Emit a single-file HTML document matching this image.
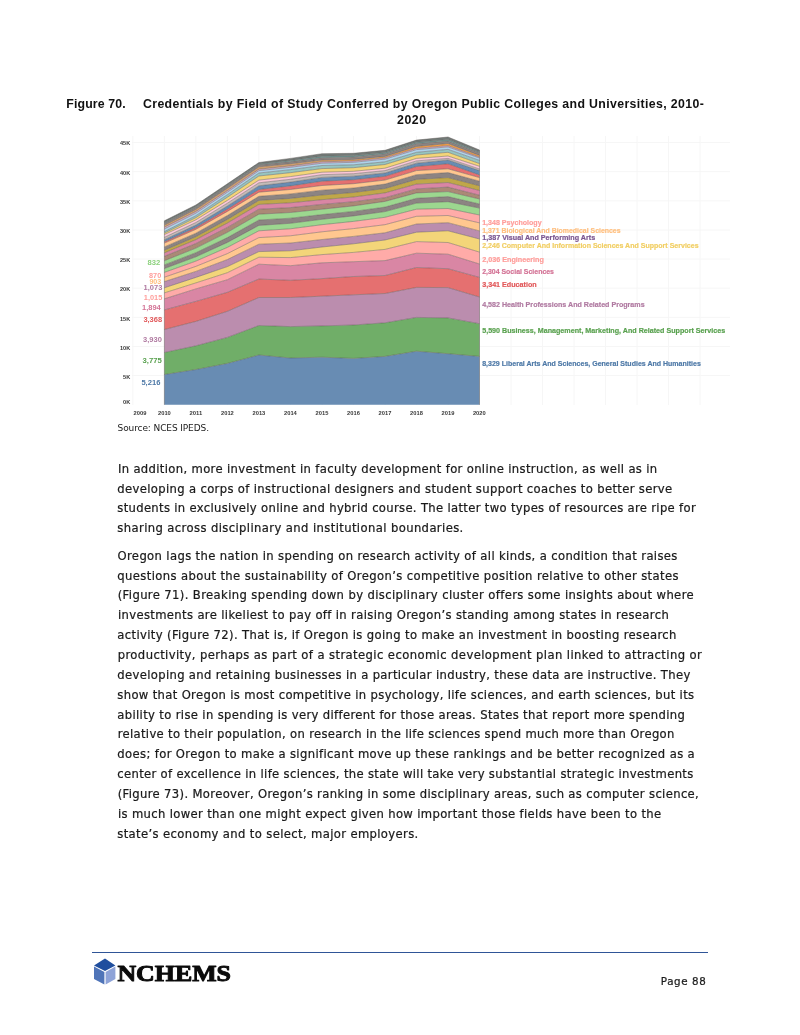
<!DOCTYPE html>
<html lang="en"><head><meta charset="utf-8"><title>Page 88</title>
<style>
html,body{margin:0;padding:0;background:#fff;}
body{width:800px;height:1035px;position:relative;overflow:hidden;font-family:'DejaVu Sans', 'Liberation Sans', sans-serif;}
.ln{position:absolute;white-space:pre;line-height:1;margin:0;}
.bd{-webkit-text-stroke:0.22px #1a1a1a;}
#chart{position:absolute;left:0;top:0;}
#rule{position:absolute;left:92px;top:951.7px;width:615.8px;height:1.3px;background:#2f5597;}
#logo{position:absolute;left:0;top:0;}
</style></head><body>
<svg id="chart" width="800" height="440" viewBox="0 0 800 440">
<defs><filter id="soft" x="-2%" y="-2%" width="104%" height="104%"><feGaussianBlur stdDeviation="0.45"/></filter></defs>
<g filter="url(#soft)">
<g stroke="#f6f6f6" stroke-width="1" fill="none">
<line x1="132" y1="142.6" x2="730" y2="142.6"/>
<line x1="132" y1="171.7" x2="730" y2="171.7"/>
<line x1="132" y1="200.9" x2="730" y2="200.9"/>
<line x1="132" y1="230" x2="730" y2="230"/>
<line x1="132" y1="259.1" x2="730" y2="259.1"/>
<line x1="132" y1="288.2" x2="730" y2="288.2"/>
<line x1="132" y1="317.4" x2="730" y2="317.4"/>
<line x1="132" y1="346.5" x2="730" y2="346.5"/>
<line x1="132" y1="375.6" x2="730" y2="375.6"/>
<line x1="132.9" y1="136" x2="132.9" y2="405"/>
<line x1="164.4" y1="136" x2="164.4" y2="405"/>
<line x1="195.9" y1="136" x2="195.9" y2="405"/>
<line x1="227.4" y1="136" x2="227.4" y2="405"/>
<line x1="258.9" y1="136" x2="258.9" y2="405"/>
<line x1="290.4" y1="136" x2="290.4" y2="405"/>
<line x1="322" y1="136" x2="322" y2="405"/>
<line x1="353.5" y1="136" x2="353.5" y2="405"/>
<line x1="385" y1="136" x2="385" y2="405"/>
<line x1="416.5" y1="136" x2="416.5" y2="405"/>
<line x1="448" y1="136" x2="448" y2="405"/>
<line x1="479.5" y1="136" x2="479.5" y2="405"/>
<line x1="511" y1="136" x2="511" y2="405"/>
<line x1="542.5" y1="136" x2="542.5" y2="405"/>
<line x1="574" y1="136" x2="574" y2="405"/>
<line x1="605.5" y1="136" x2="605.5" y2="405"/>
<line x1="637.1" y1="136" x2="637.1" y2="405"/>
<line x1="668.6" y1="136" x2="668.6" y2="405"/>
<line x1="700.1" y1="136" x2="700.1" y2="405"/>
</g>
<defs><linearGradient id="og" gradientUnits="userSpaceOnUse" x1="164.4" y1="0" x2="479.5" y2="0"><stop offset="0" stop-color="#d19f6f"/><stop offset="0.45" stop-color="#d19f6f"/><stop offset="0.75" stop-color="#f49e49"/><stop offset="1" stop-color="#f49e49"/></linearGradient></defs>
<g>
<path d="M164.4 374.5L195.9 369.5L227.4 363.4L258.9 355L290.4 358L322 357.2L353.5 358.4L385 356.4L416.5 351.2L448 353.7L479.5 356.4L479.5 404.8L448 404.8L416.5 404.8L385 404.8L353.5 404.8L322 404.8L290.4 404.8L258.9 404.8L227.4 404.8L195.9 404.8L164.4 404.8Z" fill="#678cb3"/>
<path d="M164.4 352.5L195.9 345.8L227.4 337.4L258.9 325.5L290.4 326.6L322 325.9L353.5 325L385 322.8L416.5 317.4L448 317.9L479.5 323.7L479.5 356.4L448 353.7L416.5 351.2L385 356.4L353.5 358.4L322 357.2L290.4 358L258.9 355L227.4 363.4L195.9 369.5L164.4 374.5Z" fill="#70ae68"/>
<path d="M164.4 329.5L195.9 321.4L227.4 311.3L258.9 297.5L290.4 297.5L322 296.2L353.5 294.8L385 293.5L416.5 287.4L448 287.6L479.5 297L479.5 323.7L448 317.9L416.5 317.4L385 322.8L353.5 325L322 325.9L290.4 326.6L258.9 325.5L227.4 337.4L195.9 345.8L164.4 352.5Z" fill="#bb8dae"/>
<path d="M164.4 309.9L195.9 301.4L227.4 292.3L258.9 279L290.4 280.3L322 278.6L353.5 276.5L385 275.5L416.5 267.5L448 268.7L479.5 277.4L479.5 297L448 287.6L416.5 287.4L385 293.5L353.5 294.8L322 296.2L290.4 297.5L258.9 297.5L227.4 311.3L195.9 321.4L164.4 329.5Z" fill="#e56f70"/>
<path d="M164.4 298.8L195.9 288.9L227.4 279.7L258.9 264.2L290.4 265.7L322 262.8L353.5 261.7L385 260.6L416.5 253.2L448 254.2L479.5 264L479.5 277.4L448 268.7L416.5 267.5L385 275.5L353.5 276.5L322 278.6L290.4 280.3L258.9 279L227.4 292.3L195.9 301.4L164.4 309.9Z" fill="#d986a4"/>
<path d="M164.4 292.9L195.9 282.9L227.4 272.7L258.9 257.2L290.4 257.6L322 254.6L353.5 252.4L385 249.4L416.5 241.6L448 242.5L479.5 252.1L479.5 264L448 254.2L416.5 253.2L385 260.6L353.5 261.7L322 262.8L290.4 265.7L258.9 264.2L227.4 279.7L195.9 288.9L164.4 298.8Z" fill="#ffaba8"/>
<path d="M164.4 287.8L195.9 277.4L227.4 266.6L258.9 251.6L290.4 250.8L322 247L353.5 243.8L385 240L416.5 232.2L448 230.8L479.5 239L479.5 252.1L448 242.5L416.5 241.6L385 249.4L353.5 252.4L322 254.6L290.4 257.6L258.9 257.2L227.4 272.7L195.9 282.9L164.4 292.9Z" fill="#f3d579"/>
<path d="M164.4 281.6L195.9 271.4L227.4 259.5L258.9 244.2L290.4 243L322 239.5L353.5 236.4L385 232.8L416.5 224L448 222.7L479.5 230.9L479.5 239L448 230.8L416.5 232.2L385 240L353.5 243.8L322 247L290.4 250.8L258.9 251.6L227.4 266.6L195.9 277.4L164.4 287.8Z" fill="#bb8dae"/>
<path d="M164.4 277.2L195.9 266.4L227.4 253.6L258.9 237.6L290.4 235.8L322 231.8L353.5 228.6L385 224.7L416.5 216.3L448 215.5L479.5 222.9L479.5 230.9L448 222.7L416.5 224L385 232.8L353.5 236.4L322 239.5L290.4 243L258.9 244.2L227.4 259.5L195.9 271.4L164.4 281.6Z" fill="#ffc78f"/>
<path d="M164.4 272.4L195.9 261.1L227.4 247.4L258.9 230.8L290.4 228.8L322 224.7L353.5 221.4L385 217.3L416.5 209.2L448 208.5L479.5 215L479.5 222.9L448 215.5L416.5 216.3L385 224.7L353.5 228.6L322 231.8L290.4 235.8L258.9 237.6L227.4 253.6L195.9 266.4L164.4 277.2Z" fill="#ffaba8"/>
<path d="M164.4 268.5L195.9 256.8L227.4 242.4L258.9 225.4L290.4 223.3L322 219.3L353.5 215.9L385 211.6L416.5 203.1L448 201.7L479.5 208.1L479.5 215L448 208.5L416.5 209.2L385 217.3L353.5 221.4L322 224.7L290.4 228.8L258.9 230.8L227.4 247.4L195.9 261.1L164.4 272.4Z" fill="#9cd78f"/>
<path d="M164.4 264.9L195.9 252.7L227.4 237.6L258.9 220L290.4 218.2L322 214.6L353.5 211.4L385 207.1L416.5 198.3L448 196.6L479.5 204L479.5 208.1L448 201.7L416.5 203.1L385 211.6L353.5 215.9L322 219.3L290.4 223.3L258.9 225.4L227.4 242.4L195.9 256.8L164.4 268.5Z" fill="#8c8482"/>
<path d="M164.4 260.7L195.9 248.1L227.4 232.3L258.9 214.2L290.4 212.5L322 209.2L353.5 205.9L385 201.4L416.5 192.9L448 191.6L479.5 199L479.5 204L448 196.6L416.5 198.3L385 207.1L353.5 211.4L322 214.6L290.4 218.2L258.9 220L227.4 237.6L195.9 252.7L164.4 264.9Z" fill="#9cd78f"/>
<path d="M164.4 256.3L195.9 243.5L227.4 227.4L258.9 209.2L290.4 207.6L322 204.4L353.5 201.7L385 197.7L416.5 188.9L448 187.1L479.5 195.2L479.5 199L448 191.6L416.5 192.9L385 201.4L353.5 205.9L322 209.2L290.4 212.5L258.9 214.2L227.4 232.3L195.9 248.1L164.4 260.7Z" fill="#ab8976"/>
<path d="M164.4 252.9L195.9 239.7L227.4 223L258.9 204.4L290.4 202.8L322 199.7L353.5 197L385 192.9L416.5 184.1L448 182.5L479.5 190.5L479.5 195.2L448 187.1L416.5 188.9L385 197.7L353.5 201.7L322 204.4L290.4 207.6L258.9 209.2L227.4 227.4L195.9 243.5L164.4 256.3Z" fill="#d986a4"/>
<path d="M164.4 250.2L195.9 236.7L227.4 219.4L258.9 200.4L290.4 198.4L322 195L353.5 192.5L385 188.5L416.5 179.4L448 177.6L479.5 185.8L479.5 190.5L448 182.5L416.5 184.1L385 192.9L353.5 197L322 199.7L290.4 202.8L258.9 204.4L227.4 223L195.9 239.7L164.4 252.9Z" fill="#c0a74a"/>
<path d="M164.4 246.9L195.9 233.2L227.4 215.5L258.9 196.3L290.4 193.9L322 190.2L353.5 188L385 184.1L416.5 174.7L448 172.6L479.5 181.2L479.5 185.8L448 177.6L416.5 179.4L385 188.5L353.5 192.5L322 195L290.4 198.4L258.9 200.4L227.4 219.4L195.9 236.7L164.4 250.2Z" fill="#8c8482"/>
<path d="M164.4 243.1L195.9 229.3L227.4 211.4L258.9 192.2L290.4 189.5L322 185.5L353.5 183.7L385 180.1L416.5 170.6L448 168.8L479.5 177.6L479.5 181.2L448 172.6L416.5 174.7L385 184.1L353.5 188L322 190.2L290.4 193.9L258.9 196.3L227.4 215.5L195.9 233.2L164.4 246.9Z" fill="#ffc78f"/>
<path d="M164.4 241.7L195.9 227.6L227.4 209.1L258.9 189.5L290.4 185.9L322 181.2L353.5 179.7L385 176.3L416.5 166.5L448 163.8L479.5 174.9L479.5 177.6L448 168.8L416.5 170.6L385 180.1L353.5 183.7L322 185.5L290.4 189.5L258.9 192.2L227.4 211.4L195.9 229.3L164.4 243.1Z" fill="#e56f70"/>
<path d="M164.4 239.7L195.9 225.1L227.4 206L258.9 185.8L290.4 182.1L322 177.4L353.5 176.2L385 173L416.5 163.2L448 160L479.5 170.6L479.5 174.9L448 163.8L416.5 166.5L385 176.3L353.5 179.7L322 181.2L290.4 185.9L258.9 189.5L227.4 209.1L195.9 227.6L164.4 241.7Z" fill="#678cb3"/>
<path d="M164.4 237.3L195.9 222.5L227.4 203.2L258.9 182.8L290.4 179.3L322 174.7L353.5 173.7L385 170.6L416.5 160.9L448 158.4L479.5 169L479.5 170.6L448 160L416.5 163.2L385 173L353.5 176.2L322 177.4L290.4 182.1L258.9 185.8L227.4 206L195.9 225.1L164.4 239.7Z" fill="#c4bbb8"/>
<path d="M164.4 234.6L195.9 219.8L227.4 200.4L258.9 180.1L290.4 176.6L322 172.2L353.5 171.3L385 168.2L416.5 158.4L448 156L479.5 166.3L479.5 169L448 158.4L416.5 160.9L385 170.6L353.5 173.7L322 174.7L290.4 179.3L258.9 182.8L227.4 203.2L195.9 222.5L164.4 237.3Z" fill="#fbc8d8"/>
<path d="M164.4 233.1L195.9 217.6L227.4 197.2L258.9 176L290.4 172.7L322 168.6L353.5 167.7L385 164.5L416.5 155L448 152.3L479.5 163.6L479.5 166.3L448 156L416.5 158.4L385 168.2L353.5 171.3L322 172.2L290.4 176.6L258.9 180.1L227.4 200.4L195.9 219.8L164.4 234.6Z" fill="#f3d579"/>
<path d="M164.4 231.6L195.9 215.7L227.4 194.7L258.9 173L290.4 169.7L322 165.5L353.5 164.8L385 161.8L416.5 152.3L448 149.4L479.5 160.4L479.5 163.6L448 152.3L416.5 155L385 164.5L353.5 167.7L322 168.6L290.4 172.7L258.9 176L227.4 197.2L195.9 217.6L164.4 233.1Z" fill="#97c5c0"/>
<path d="M164.4 228.9L195.9 213.1L227.4 192.1L258.9 170.6L290.4 167.3L322 163.2L353.5 162.3L385 159.1L416.5 149.6L448 146.9L479.5 158L479.5 160.4L448 149.4L416.5 152.3L385 161.8L353.5 164.8L322 165.5L290.4 169.7L258.9 173L227.4 194.7L195.9 215.7L164.4 231.6Z" fill="#add2eb"/>
<path d="M164.4 227.2L195.9 211.5L227.4 190.6L258.9 169.2L290.4 165.9L322 161.8L353.5 161L385 157.8L416.5 148.3L448 145.6L479.5 157L479.5 158L448 146.9L416.5 149.6L385 159.1L353.5 162.3L322 163.2L290.4 167.3L258.9 170.6L227.4 192.1L195.9 213.1L164.4 228.9Z" fill="#dab2d0"/>
<path d="M164.4 225.1L195.9 209.3L227.4 188.2L258.9 166.8L290.4 163.7L322 160L353.5 159.4L385 156.4L416.5 146.5L448 143.5L479.5 155.4L479.5 157L448 145.6L416.5 148.3L385 157.8L353.5 161L322 161.8L290.4 165.9L258.9 169.2L227.4 190.6L195.9 211.5L164.4 227.2Z" fill="url(#og)"/>
<path d="M164.4 223L195.9 207.3L227.4 186.1L258.9 164.8L290.4 161.6L322 157.7L353.5 156.9L385 153.7L416.5 143.5L448 141.1L479.5 152.7L479.5 155.4L448 143.5L416.5 146.5L385 156.4L353.5 159.4L322 160L290.4 163.7L258.9 166.8L227.4 188.2L195.9 209.3L164.4 225.1Z" fill="#8c8482"/>
<path d="M164.4 222.2L195.9 206.4L227.4 185.3L258.9 164L290.4 160.4L322 156.3L353.5 155.6L385 152.5L416.5 142.3L448 139.6L479.5 151.7L479.5 152.7L448 141.1L416.5 143.5L385 153.7L353.5 156.9L322 157.7L290.4 161.6L258.9 164.8L227.4 186.1L195.9 207.3L164.4 223Z" fill="#739e9a"/>
<path d="M164.4 220.8L195.9 205L227.4 183.8L258.9 162.5L290.4 158.4L322 153.7L353.5 153.3L385 150.3L416.5 140.1L448 137L479.5 150L479.5 151.7L448 139.6L416.5 142.3L385 152.5L353.5 155.6L322 156.3L290.4 160.4L258.9 164L227.4 185.3L195.9 206.4L164.4 222.2Z" fill="#727a77"/>
</g>
<g fill="none" stroke="#5a5350" stroke-opacity="0.75" stroke-width="0.6">
<path d="M164.4 374.5L195.9 369.5L227.4 363.4L258.9 355L290.4 358L322 357.2L353.5 358.4L385 356.4L416.5 351.2L448 353.7L479.5 356.4"/>
<path d="M164.4 352.5L195.9 345.8L227.4 337.4L258.9 325.5L290.4 326.6L322 325.9L353.5 325L385 322.8L416.5 317.4L448 317.9L479.5 323.7"/>
<path d="M164.4 329.5L195.9 321.4L227.4 311.3L258.9 297.5L290.4 297.5L322 296.2L353.5 294.8L385 293.5L416.5 287.4L448 287.6L479.5 297"/>
<path d="M164.4 309.9L195.9 301.4L227.4 292.3L258.9 279L290.4 280.3L322 278.6L353.5 276.5L385 275.5L416.5 267.5L448 268.7L479.5 277.4"/>
<path d="M164.4 298.8L195.9 288.9L227.4 279.7L258.9 264.2L290.4 265.7L322 262.8L353.5 261.7L385 260.6L416.5 253.2L448 254.2L479.5 264"/>
<path d="M164.4 292.9L195.9 282.9L227.4 272.7L258.9 257.2L290.4 257.6L322 254.6L353.5 252.4L385 249.4L416.5 241.6L448 242.5L479.5 252.1"/>
<path d="M164.4 287.8L195.9 277.4L227.4 266.6L258.9 251.6L290.4 250.8L322 247L353.5 243.8L385 240L416.5 232.2L448 230.8L479.5 239"/>
<path d="M164.4 281.6L195.9 271.4L227.4 259.5L258.9 244.2L290.4 243L322 239.5L353.5 236.4L385 232.8L416.5 224L448 222.7L479.5 230.9"/>
<path d="M164.4 277.2L195.9 266.4L227.4 253.6L258.9 237.6L290.4 235.8L322 231.8L353.5 228.6L385 224.7L416.5 216.3L448 215.5L479.5 222.9"/>
<path d="M164.4 272.4L195.9 261.1L227.4 247.4L258.9 230.8L290.4 228.8L322 224.7L353.5 221.4L385 217.3L416.5 209.2L448 208.5L479.5 215"/>
<path d="M164.4 268.5L195.9 256.8L227.4 242.4L258.9 225.4L290.4 223.3L322 219.3L353.5 215.9L385 211.6L416.5 203.1L448 201.7L479.5 208.1"/>
<path d="M164.4 264.9L195.9 252.7L227.4 237.6L258.9 220L290.4 218.2L322 214.6L353.5 211.4L385 207.1L416.5 198.3L448 196.6L479.5 204"/>
<path d="M164.4 260.7L195.9 248.1L227.4 232.3L258.9 214.2L290.4 212.5L322 209.2L353.5 205.9L385 201.4L416.5 192.9L448 191.6L479.5 199"/>
<path d="M164.4 256.3L195.9 243.5L227.4 227.4L258.9 209.2L290.4 207.6L322 204.4L353.5 201.7L385 197.7L416.5 188.9L448 187.1L479.5 195.2"/>
<path d="M164.4 252.9L195.9 239.7L227.4 223L258.9 204.4L290.4 202.8L322 199.7L353.5 197L385 192.9L416.5 184.1L448 182.5L479.5 190.5"/>
<path d="M164.4 250.2L195.9 236.7L227.4 219.4L258.9 200.4L290.4 198.4L322 195L353.5 192.5L385 188.5L416.5 179.4L448 177.6L479.5 185.8"/>
<path d="M164.4 246.9L195.9 233.2L227.4 215.5L258.9 196.3L290.4 193.9L322 190.2L353.5 188L385 184.1L416.5 174.7L448 172.6L479.5 181.2"/>
<path d="M164.4 243.1L195.9 229.3L227.4 211.4L258.9 192.2L290.4 189.5L322 185.5L353.5 183.7L385 180.1L416.5 170.6L448 168.8L479.5 177.6"/>
<path d="M164.4 241.7L195.9 227.6L227.4 209.1L258.9 189.5L290.4 185.9L322 181.2L353.5 179.7L385 176.3L416.5 166.5L448 163.8L479.5 174.9"/>
<path d="M164.4 239.7L195.9 225.1L227.4 206L258.9 185.8L290.4 182.1L322 177.4L353.5 176.2L385 173L416.5 163.2L448 160L479.5 170.6"/>
<path d="M164.4 237.3L195.9 222.5L227.4 203.2L258.9 182.8L290.4 179.3L322 174.7L353.5 173.7L385 170.6L416.5 160.9L448 158.4L479.5 169"/>
<path d="M164.4 234.6L195.9 219.8L227.4 200.4L258.9 180.1L290.4 176.6L322 172.2L353.5 171.3L385 168.2L416.5 158.4L448 156L479.5 166.3"/>
<path d="M164.4 233.1L195.9 217.6L227.4 197.2L258.9 176L290.4 172.7L322 168.6L353.5 167.7L385 164.5L416.5 155L448 152.3L479.5 163.6"/>
<path d="M164.4 231.6L195.9 215.7L227.4 194.7L258.9 173L290.4 169.7L322 165.5L353.5 164.8L385 161.8L416.5 152.3L448 149.4L479.5 160.4"/>
<path d="M164.4 228.9L195.9 213.1L227.4 192.1L258.9 170.6L290.4 167.3L322 163.2L353.5 162.3L385 159.1L416.5 149.6L448 146.9L479.5 158"/>
<path d="M164.4 227.2L195.9 211.5L227.4 190.6L258.9 169.2L290.4 165.9L322 161.8L353.5 161L385 157.8L416.5 148.3L448 145.6L479.5 157"/>
<path d="M164.4 225.1L195.9 209.3L227.4 188.2L258.9 166.8L290.4 163.7L322 160L353.5 159.4L385 156.4L416.5 146.5L448 143.5L479.5 155.4"/>
<path d="M164.4 223L195.9 207.3L227.4 186.1L258.9 164.8L290.4 161.6L322 157.7L353.5 156.9L385 153.7L416.5 143.5L448 141.1L479.5 152.7"/>
<path d="M164.4 222.2L195.9 206.4L227.4 185.3L258.9 164L290.4 160.4L322 156.3L353.5 155.6L385 152.5L416.5 142.3L448 139.6L479.5 151.7"/>
<path d="M164.4 220.8L195.9 205L227.4 183.8L258.9 162.5L290.4 158.4L322 153.7L353.5 153.3L385 150.3L416.5 140.1L448 137L479.5 150"/>
<path d="M164.4 220.8L164.4 404.8"/>
<path d="M479.5 150L479.5 404.8"/>
</g>
<g font-family="&quot;Liberation Sans&quot;, sans-serif">
<text x="147.4" y="265.2" font-size="6.4" font-weight="700" fill="#8cd17d" textLength="12.8" lengthAdjust="spacingAndGlyphs">832</text>
<text x="149.0" y="278.3" font-size="6.4" font-weight="700" fill="#ff9d9a" textLength="12.2" lengthAdjust="spacingAndGlyphs">870</text>
<text x="149.4" y="283.9" font-size="6.4" font-weight="700" fill="#ffbe7d" textLength="11.8" lengthAdjust="spacingAndGlyphs">903</text>
<text x="143.6" y="290.1" font-size="6.4" font-weight="700" fill="#b07aa1" textLength="18.7" lengthAdjust="spacingAndGlyphs">1,073</text>
<text x="143.8" y="300.4" font-size="6.4" font-weight="700" fill="#ff9d9a" textLength="18.5" lengthAdjust="spacingAndGlyphs">1,015</text>
<text x="142.0" y="309.8" font-size="6.4" font-weight="700" fill="#d37295" textLength="18.7" lengthAdjust="spacingAndGlyphs">1,894</text>
<text x="143.4" y="321.9" font-size="6.4" font-weight="700" fill="#e15759" textLength="18.7" lengthAdjust="spacingAndGlyphs">3,368</text>
<text x="143.1" y="341.6" font-size="6.4" font-weight="700" fill="#b07aa1" textLength="18.8" lengthAdjust="spacingAndGlyphs">3,930</text>
<text x="142.5" y="363.2" font-size="6.4" font-weight="700" fill="#59a14f" textLength="19.3" lengthAdjust="spacingAndGlyphs">3,775</text>
<text x="141.4" y="385.1" font-size="6.4" font-weight="700" fill="#4e79a7" textLength="19.0" lengthAdjust="spacingAndGlyphs">5,216</text>
<text x="482.2" y="224.7" font-size="6.6" font-weight="700" fill="#ff9d9a" stroke="#ff9d9a" stroke-width="0.18" textLength="59.4" lengthAdjust="spacingAndGlyphs">1,348 Psychology</text>
<text x="482.2" y="232.5" font-size="6.6" font-weight="700" fill="#ffbe7d" stroke="#ffbe7d" stroke-width="0.18" textLength="138.4" lengthAdjust="spacingAndGlyphs">1,371 Biological And Biomedical Sciences</text>
<text x="482.2" y="240.4" font-size="6.6" font-weight="700" fill="#7a5590" stroke="#7a5590" stroke-width="0.18" textLength="113.0" lengthAdjust="spacingAndGlyphs">1,387 Visual And Performing Arts</text>
<text x="482.2" y="247.5" font-size="6.6" font-weight="700" fill="#f1ce63" stroke="#f1ce63" stroke-width="0.18" textLength="216.4" lengthAdjust="spacingAndGlyphs">2,246 Computer And Information Sciences And Support Services</text>
<text x="482.2" y="261.8" font-size="6.6" font-weight="700" fill="#ff9d9a" stroke="#ff9d9a" stroke-width="0.18" textLength="61.7" lengthAdjust="spacingAndGlyphs">2,036 Engineering</text>
<text x="482.2" y="273.5" font-size="6.6" font-weight="700" fill="#d37295" stroke="#d37295" stroke-width="0.18" textLength="71.8" lengthAdjust="spacingAndGlyphs">2,304 Social Sciences</text>
<text x="482.2" y="287.1" font-size="6.6" font-weight="700" fill="#e15759" stroke="#e15759" stroke-width="0.18" textLength="54.5" lengthAdjust="spacingAndGlyphs">3,341 Education</text>
<text x="482.2" y="306.6" font-size="6.6" font-weight="700" fill="#b07aa1" stroke="#b07aa1" stroke-width="0.18" textLength="162.4" lengthAdjust="spacingAndGlyphs">4,582 Health Professions And Related Programs</text>
<text x="482.2" y="333.3" font-size="6.6" font-weight="700" fill="#59a14f" stroke="#59a14f" stroke-width="0.18" textLength="243.0" lengthAdjust="spacingAndGlyphs">5,590 Business, Management, Marketing, And Related Support Services</text>
<text x="482.2" y="365.8" font-size="6.6" font-weight="700" fill="#4e79a7" stroke="#4e79a7" stroke-width="0.18" textLength="218.7" lengthAdjust="spacingAndGlyphs">8,329 Liberal Arts And Sciences, General Studies And Humanities</text>
<text x="123.0" y="403.9" font-size="5.3" font-weight="700" fill="#383838" textLength="7.2" lengthAdjust="spacingAndGlyphs">0K</text>
<text x="123.0" y="379.0" font-size="5.3" font-weight="700" fill="#383838" textLength="7.2" lengthAdjust="spacingAndGlyphs">5K</text>
<text x="120.0" y="349.8" font-size="5.3" font-weight="700" fill="#383838" textLength="10.2" lengthAdjust="spacingAndGlyphs">10K</text>
<text x="120.0" y="320.6" font-size="5.3" font-weight="700" fill="#383838" textLength="10.2" lengthAdjust="spacingAndGlyphs">15K</text>
<text x="120.0" y="291.4" font-size="5.3" font-weight="700" fill="#383838" textLength="10.2" lengthAdjust="spacingAndGlyphs">20K</text>
<text x="120.0" y="262.2" font-size="5.3" font-weight="700" fill="#383838" textLength="10.2" lengthAdjust="spacingAndGlyphs">25K</text>
<text x="120.0" y="233.0" font-size="5.3" font-weight="700" fill="#383838" textLength="10.2" lengthAdjust="spacingAndGlyphs">30K</text>
<text x="120.0" y="203.8" font-size="5.3" font-weight="700" fill="#383838" textLength="10.2" lengthAdjust="spacingAndGlyphs">35K</text>
<text x="120.0" y="174.6" font-size="5.3" font-weight="700" fill="#383838" textLength="10.2" lengthAdjust="spacingAndGlyphs">40K</text>
<text x="120.0" y="145.4" font-size="5.3" font-weight="700" fill="#383838" textLength="10.2" lengthAdjust="spacingAndGlyphs">45K</text>
<text x="133.6" y="415.0" font-size="5.3" font-weight="700" fill="#383838" textLength="12.8" lengthAdjust="spacingAndGlyphs">2009</text>
<text x="158.0" y="415.0" font-size="5.3" font-weight="700" fill="#383838" textLength="12.8" lengthAdjust="spacingAndGlyphs">2010</text>
<text x="189.5" y="415.0" font-size="5.3" font-weight="700" fill="#383838" textLength="12.8" lengthAdjust="spacingAndGlyphs">2011</text>
<text x="221.0" y="415.0" font-size="5.3" font-weight="700" fill="#383838" textLength="12.8" lengthAdjust="spacingAndGlyphs">2012</text>
<text x="252.5" y="415.0" font-size="5.3" font-weight="700" fill="#383838" textLength="12.8" lengthAdjust="spacingAndGlyphs">2013</text>
<text x="284.0" y="415.0" font-size="5.3" font-weight="700" fill="#383838" textLength="12.8" lengthAdjust="spacingAndGlyphs">2014</text>
<text x="315.6" y="415.0" font-size="5.3" font-weight="700" fill="#383838" textLength="12.8" lengthAdjust="spacingAndGlyphs">2015</text>
<text x="347.1" y="415.0" font-size="5.3" font-weight="700" fill="#383838" textLength="12.8" lengthAdjust="spacingAndGlyphs">2016</text>
<text x="378.6" y="415.0" font-size="5.3" font-weight="700" fill="#383838" textLength="12.8" lengthAdjust="spacingAndGlyphs">2017</text>
<text x="410.1" y="415.0" font-size="5.3" font-weight="700" fill="#383838" textLength="12.8" lengthAdjust="spacingAndGlyphs">2018</text>
<text x="441.6" y="415.0" font-size="5.3" font-weight="700" fill="#383838" textLength="12.8" lengthAdjust="spacingAndGlyphs">2019</text>
<text x="472.9" y="415.0" font-size="5.3" font-weight="700" fill="#383838" textLength="12.8" lengthAdjust="spacingAndGlyphs">2020</text>
</g></g></svg>
<div class="ln bd" id="b0" style="left:117.90px;top:464px;font:400 11.6px/1 'DejaVu Sans', 'Liberation Sans', sans-serif;color:#1a1a1a;letter-spacing:0.3504px">In addition, more investment in faculty development for online instruction, as well as in</div>
<div class="ln bd" id="b1" style="left:117.30px;top:484px;font:400 11.6px/1 'DejaVu Sans', 'Liberation Sans', sans-serif;color:#1a1a1a;letter-spacing:0.3513px">developing a corps of instructional designers and student support coaches to better serve</div>
<div class="ln bd" id="b2" style="left:117.30px;top:503px;font:400 11.6px/1 'DejaVu Sans', 'Liberation Sans', sans-serif;color:#1a1a1a;letter-spacing:0.3295px">students in exclusively online and hybrid course. The latter two types of resources are ripe for</div>
<div class="ln bd" id="b3" style="left:117.30px;top:523px;font:400 11.6px/1 'DejaVu Sans', 'Liberation Sans', sans-serif;color:#1a1a1a;letter-spacing:0.3937px">sharing across disciplinary and institutional boundaries.</div>
<div class="ln bd" id="b4" style="left:117.50px;top:551px;font:400 11.6px/1 'DejaVu Sans', 'Liberation Sans', sans-serif;color:#1a1a1a;letter-spacing:0.3686px">Oregon lags the nation in spending on research activity of all kinds, a condition that raises</div>
<div class="ln bd" id="b5" style="left:117.30px;top:571px;font:400 11.6px/1 'DejaVu Sans', 'Liberation Sans', sans-serif;color:#1a1a1a;letter-spacing:0.3849px">questions about the sustainability of Oregon’s competitive position relative to other states</div>
<div class="ln bd" id="b6" style="left:117.70px;top:590px;font:400 11.6px/1 'DejaVu Sans', 'Liberation Sans', sans-serif;color:#1a1a1a;letter-spacing:0.3778px">(Figure 71). Breaking spending down by disciplinary cluster offers some insights about where</div>
<div class="ln bd" id="b7" style="left:117.90px;top:610px;font:400 11.6px/1 'DejaVu Sans', 'Liberation Sans', sans-serif;color:#1a1a1a;letter-spacing:0.3579px">investments are likeliest to pay off in raising Oregon’s standing among states in research</div>
<div class="ln bd" id="b8" style="left:117.30px;top:630px;font:400 11.6px/1 'DejaVu Sans', 'Liberation Sans', sans-serif;color:#1a1a1a;letter-spacing:0.3679px">activity (Figure 72). That is, if Oregon is going to make an investment in boosting research</div>
<div class="ln bd" id="b9" style="left:117.70px;top:650px;font:400 11.6px/1 'DejaVu Sans', 'Liberation Sans', sans-serif;color:#1a1a1a;letter-spacing:0.4038px">productivity, perhaps as part of a strategic economic development plan linked to attracting or</div>
<div class="ln bd" id="b10" style="left:117.30px;top:670px;font:400 11.6px/1 'DejaVu Sans', 'Liberation Sans', sans-serif;color:#1a1a1a;letter-spacing:0.3456px">developing and retaining businesses in a particular industry, these data are instructive. They</div>
<div class="ln bd" id="b11" style="left:117.30px;top:690px;font:400 11.6px/1 'DejaVu Sans', 'Liberation Sans', sans-serif;color:#1a1a1a;letter-spacing:0.3453px">show that Oregon is most competitive in psychology, life sciences, and earth sciences, but its</div>
<div class="ln bd" id="b12" style="left:117.30px;top:710px;font:400 11.6px/1 'DejaVu Sans', 'Liberation Sans', sans-serif;color:#1a1a1a;letter-spacing:0.3538px">ability to rise in spending is very different for those areas. States that report more spending</div>
<div class="ln bd" id="b13" style="left:117.70px;top:729px;font:400 11.6px/1 'DejaVu Sans', 'Liberation Sans', sans-serif;color:#1a1a1a;letter-spacing:0.3288px">relative to their population, on research in the life sciences spend much more than Oregon</div>
<div class="ln bd" id="b14" style="left:117.30px;top:749px;font:400 11.6px/1 'DejaVu Sans', 'Liberation Sans', sans-serif;color:#1a1a1a;letter-spacing:0.3678px">does; for Oregon to make a significant move up these rankings and be better recognized as a</div>
<div class="ln bd" id="b15" style="left:117.30px;top:769px;font:400 11.6px/1 'DejaVu Sans', 'Liberation Sans', sans-serif;color:#1a1a1a;letter-spacing:0.3311px">center of excellence in life sciences, the state will take very substantial strategic investments</div>
<div class="ln bd" id="b16" style="left:117.70px;top:789px;font:400 11.6px/1 'DejaVu Sans', 'Liberation Sans', sans-serif;color:#1a1a1a;letter-spacing:0.3506px">(Figure 73). Moreover, Oregon’s ranking in some disciplinary areas, such as computer science,</div>
<div class="ln bd" id="b17" style="left:117.90px;top:809px;font:400 11.6px/1 'DejaVu Sans', 'Liberation Sans', sans-serif;color:#1a1a1a;letter-spacing:0.3497px">is much lower than one might expect given how important those fields have been to the</div>
<div class="ln bd" id="b18" style="left:117.30px;top:829px;font:400 11.6px/1 'DejaVu Sans', 'Liberation Sans', sans-serif;color:#1a1a1a;letter-spacing:0.3682px">state’s economy and to select, major employers.</div>
<div class="ln" id="t0" style="left:66.30px;top:98px;font:700 12.3px/1 'Liberation Sans', sans-serif;color:#111;letter-spacing:0.1451px">Figure 70.</div>
<div class="ln" id="t1" style="left:143.00px;top:98px;font:700 12.3px/1 'Liberation Sans', sans-serif;color:#111;letter-spacing:0.3702px">Credentials by Field of Study Conferred by Oregon Public Colleges and Universities, 2010-</div>
<div class="ln" id="t2" style="left:396.90px;top:114px;font:700 12.3px/1 'Liberation Sans', sans-serif;color:#111;letter-spacing:0.6469px">2020</div>
<div class="ln" id="src" style="left:117.60px;top:424px;font:400 9.0px/1 'DejaVu Sans', 'Liberation Sans', sans-serif;color:#1a1a1a;letter-spacing:-0.1089px">Source: NCES IPEDS.</div>
<div class="ln bd" id="pg" style="left:660.80px;top:976px;font:400 10.3px/1 'DejaVu Sans', 'Liberation Sans', sans-serif;color:#1a1a1a;letter-spacing:0.6146px">Page 88</div>
<div id="rule"></div>
<svg id="logo" width="800" height="1035" viewBox="0 0 800 1035" style="pointer-events:none">
<polygon points="105,958.4 115.4,965.6 105,971 94,965.6" fill="#1f4e9e"/>
<polygon points="94,966.6 104.4,972 104.4,984.4 94,979" fill="#4f74b8"/>
<polygon points="105.6,972 115.4,966.6 115.4,979 105.6,984.4" fill="#8ea3d8"/>
<text x="117.4" y="981.3" font-family="&quot;Liberation Serif&quot;, serif" font-weight="700" font-size="24.0" fill="#0a0a0a" stroke="#0a0a0a" stroke-width="1.0" stroke-linejoin="round" textLength="113.6" lengthAdjust="spacingAndGlyphs">NCHEMS</text>
</svg>
</body></html>
